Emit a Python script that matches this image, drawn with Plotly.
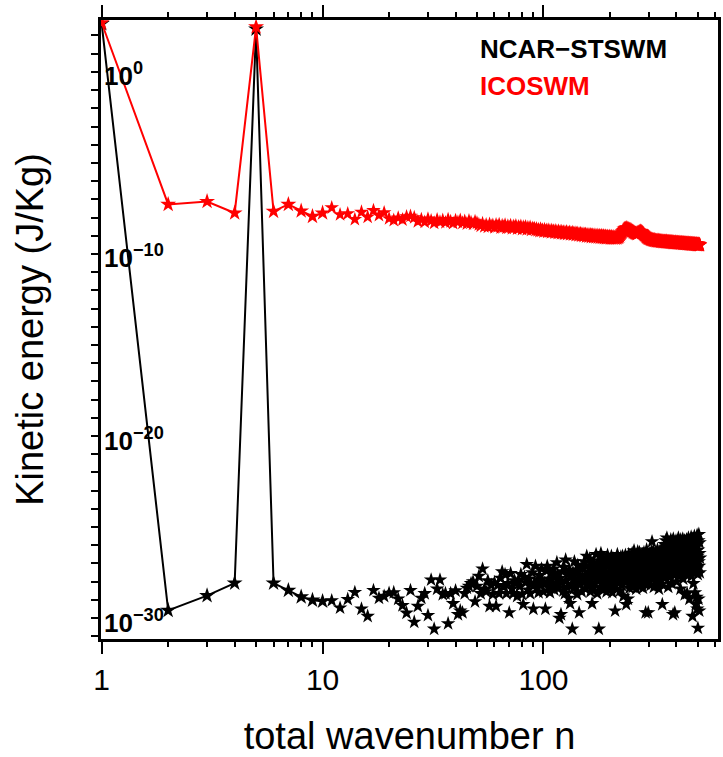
import plotly.graph_objects as go

# ---------------- data (log10 of kinetic energy, J/Kg) ----------------
wavenumber = list(range(1, 512))

ncar_log10 = [
    2.65, -29.58, -28.77, -28.08, 2.35, -28.08, -28.48, -28.84, -29.02, -29.08,
    -29.04, -29.44, -28.97, -28.59, -29.50, -29.90, -28.48, -28.90, -28.80, -28.63,
    -28.60, -28.95, -29.31, -29.72, -28.48, -30.22, -29.35, -28.90, -28.65, -29.85,
    -27.90, -30.60, -28.40, -27.90, -28.70, -28.65, -30.30, -28.65, -29.20, -28.50,
    -29.80, -29.60, -29.70, -28.65, -28.35, -28.25, -28.10, -28.00, -29.10, -28.25,
    -27.70, -28.65, -27.30, -28.40, -28.55, -27.95, -29.35, -28.20, -28.70, -28.05,
    -29.35, -28.20, -28.65, -27.80, -27.45, -28.30, -27.60, -28.65, -28.10, -29.70,
    -27.55, -28.40, -28.65, -27.95, -28.10, -28.80, -27.90, -28.25, -27.60, -28.70,
    -29.25, -27.75, -28.05, -27.05, -28.45, -27.85, -28.65, -28.15, -27.50, -29.50,
    -28.10, -27.15, -28.35, -27.90, -28.60, -27.65, -28.20, -27.30, -28.00, -28.55,
    -28.10, -29.50, -27.40, -27.15, -28.30, -27.85, -28.60, -27.55, -27.90, -28.20,
    -27.30, -28.45, -27.70, -28.10, -26.95, -27.60, -28.35, -30.00, -27.80, -29.80,
    -28.05, -27.45, -28.50, -27.20, -28.65, -26.80, -27.95, -28.30, -27.60, -28.90,
    -27.35, -29.20, -27.75, -28.15, -30.60, -27.50, -28.40, -26.90, -27.85, -28.25,
    -27.40, -28.70, -27.10, -27.95, -29.70, -27.65, -28.10, -27.25, -28.55, -27.80,
    -27.30, -28.05, -26.90, -27.70, -28.40, -27.15, -26.60, -27.85, -28.20, -27.45,
    -27.95, -26.75, -28.55, -27.25, -27.60, -29.20, -27.05, -28.30, -26.95, -27.75,
    -28.10, -27.35, -26.50, -27.90, -28.65, -27.20, -27.55, -30.60, -26.85, -27.65,
    -28.35, -26.45, -27.40, -28.00, -27.10, -26.70, -28.45, -27.80, -27.30, -28.20,
    -26.95, -27.60, -28.55, -27.00, -26.55, -27.85, -28.30, -27.45, -26.80, -27.70,
    -28.15, -27.25, -26.60, -27.95, -28.60, -27.05, -27.50, -26.75, -28.25, -27.35,
    -29.60, -26.90, -27.80, -28.40, -27.15, -26.50, -27.65, -28.05, -27.40, -26.85,
    -27.95, -28.50, -27.20, -26.65, -27.70, -28.20, -27.00, -26.60, -27.55, -28.80,
    -27.30, -26.70, -28.00, -27.45, -26.55, -27.85, -29.25, -27.10, -26.80, -27.60,
    -28.95, -27.25, -26.50, -27.90, -28.35, -27.05, -26.75, -27.50, -28.10, -26.95,
    -27.20, -26.45, -27.75, -28.30, -26.85, -27.40, -26.30, -27.95, -28.15, -26.70,
    -27.55, -26.95, -28.40, -27.10, -26.55, -27.80, -26.35, -27.35, -28.05, -26.80,
    -27.60, -26.40, -27.15, -28.25, -26.90, -27.50, -26.60, -27.90, -27.05, -26.50,
    -27.70, -28.35, -26.75, -27.25, -26.40, -27.85, -26.95, -27.45, -28.10, -29.70,
    -26.65, -27.30, -26.25, -27.75, -28.00, -26.85, -27.15, -29.70, -26.55, -27.60,
    -26.90, -27.95, -26.45, -27.35, -28.20, -26.70, -27.05, -26.35, -27.65, -25.80,
    -27.20, -26.60, -27.85, -26.30, -27.45, -28.30, -26.80, -27.10, -26.50, -27.70,
    -26.95, -27.55, -26.40, -28.05, -27.00, -26.65, -27.40, -26.25, -27.80, -26.85,
    -27.25, -26.55, -28.40, -26.90, -27.60, -26.35, -27.15, -26.75, -27.95, -26.45,
    -27.50, -26.20, -27.05, -28.15, -29.25, -26.60, -27.35, -26.85, -27.70, -26.40,
    -26.70, -27.45, -25.95, -26.40, -27.80, -26.15, -27.10, -25.75, -26.90, -27.35,
    -26.25, -25.60, -27.60, -26.55, -26.05, -27.20, -28.30, -26.45, -25.85, -27.00,
    -26.60, -27.55, -25.90, -26.35, -27.75, -26.80, -25.70, -27.15, -26.50, -28.10,
    -26.10, -26.95, -25.80, -27.40, -26.30, -29.80, -25.65, -26.75, -27.25, -26.00,
    -27.65, -26.45, -29.70, -25.95, -26.85, -27.30, -26.20, -25.75, -27.05, -26.55,
    -28.00, -26.15, -25.85, -27.50, -26.65, -26.05, -27.20, -25.60, -26.90, -26.35,
    -27.70, -26.00, -25.80, -26.95, -27.35, -26.25, -28.40, -25.70, -26.60, -27.10,
    -26.40, -25.90, -27.55, -26.70, -26.10, -27.00, -25.65, -26.50, -27.85, -26.20,
    -25.95, -26.80, -27.30, -26.30, -25.75, -28.70, -26.55, -27.15, -26.05, -25.85,
    -26.95, -27.60, -26.15, -25.70, -26.65, -27.25, -28.65, -26.35, -25.80, -26.85,
    -27.40, -26.00, -25.60, -26.75, -27.05, -26.25, -25.90, -28.95, -26.45, -27.50,
    -26.10, -25.75, -26.90, -27.20, -26.30, -25.55, -26.60, -27.70, -26.05, -25.85,
    -26.80, -27.35, -29.90, -26.40, -25.65, -26.95, -28.10, -26.20, -25.80, -27.00,
    -26.55, -25.50, -27.45, -26.15, -28.60, -26.70, -25.70, -27.10, -29.25, -26.35,
    -25.90, -26.85, -28.85, -27.30, -26.00, -25.45, -29.50, -26.60, -27.60, -30.55,
    -26.25, -25.75, -28.95, -26.90, -25.40, -27.15, -29.60, -26.45, -25.85, -27.50,
    -26.70,
]

ico_log10 = [
    2.70, -7.28, -7.12, -7.75, 2.47, -7.66, -7.28, -7.64, -7.94, -7.75,
    -7.46, -7.84, -7.79, -8.10, -7.70, -7.97, -7.61, -7.88, -7.73, -8.06,
    -8.15, -8.02, -8.12, -7.95, -7.92, -8.00, -8.22, -8.10, -8.25, -8.08,
    -8.18, -8.30, -8.12, -8.24, -8.15, -8.28, -8.10, -8.22, -8.32, -8.16,
    -8.25, -8.14, -8.30, -8.20, -8.34, -8.18, -8.27, -8.36, -8.22, -8.30,
    -8.38, -8.46, -8.33, -8.50, -8.40, -8.52, -8.36, -8.47, -8.42, -8.55,
    -8.40, -8.50, -8.38, -8.56, -8.44, -8.52, -8.41, -8.58, -8.46, -8.54,
    -8.43, -8.60, -8.48, -8.55, -8.45, -8.62, -8.50, -8.57, -8.47, -8.64,
    -8.52, -8.60, -8.50, -8.66, -8.55, -8.62, -8.53, -8.68, -8.58, -8.64,
    -8.60, -8.70, -8.62, -8.72, -8.65, -8.75, -8.63, -8.74, -8.68, -8.78,
    -8.66, -8.76, -8.70, -8.80, -8.68, -8.78, -8.72, -8.82, -8.70, -8.80,
    -8.74, -8.84, -8.72, -8.82, -8.76, -8.86, -8.74, -8.84, -8.78, -8.88,
    -8.76, -8.86, -8.79, -8.90, -8.81, -8.88, -8.78, -8.92, -8.83, -8.87,
    -8.80, -8.93, -8.84, -8.89, -8.82, -8.95, -8.86, -8.91, -8.84, -8.97,
    -8.88, -8.94, -8.86, -8.99, -8.90, -8.96, -8.88, -9.01, -8.92, -8.97,
    -8.90, -9.03, -8.93, -8.98, -8.91, -9.05, -8.95, -9.00, -8.93, -9.06,
    -8.96, -9.02, -8.94, -9.08, -8.97, -9.03, -8.95, -9.09, -8.99, -9.04,
    -8.96, -9.10, -9.00, -9.05, -8.97, -9.11, -9.01, -9.06, -8.98, -9.12,
    -9.02, -9.07, -8.99, -9.13, -9.03, -9.08, -9.00, -9.14, -9.04, -9.09,
    -9.01, -9.15, -9.05, -9.10, -9.02, -9.14, -9.06, -9.11, -9.03, -9.16,
    -9.07, -9.12, -9.04, -9.17, -9.08, -9.13, -9.05, -9.16, -9.09, -9.13,
    -9.06, -9.17, -9.10, -9.14, -9.05, -9.15, -9.08, -9.12, -9.02, -9.10,
    -8.98, -9.06, -8.92, -8.98, -8.85, -8.90, -8.78, -8.84, -8.70, -8.76,
    -8.64, -8.72, -8.60, -8.68, -8.58, -8.66, -8.56, -8.64, -8.58, -8.66,
    -8.60, -8.68, -8.62, -8.70, -8.64, -8.72, -8.66, -8.74, -8.68, -8.76,
    -8.70, -8.78, -8.74, -8.82, -8.76, -8.84, -8.80, -8.86, -8.82, -8.88,
    -8.84, -8.90, -8.86, -8.92, -8.84, -8.90, -8.82, -8.88, -8.80, -8.86,
    -8.78, -8.84, -8.76, -8.82, -8.74, -8.80, -8.76, -8.84, -8.78, -8.86,
    -8.82, -8.90, -8.86, -8.94, -8.90, -8.98, -8.95, -9.02, -8.98, -9.06,
    -9.02, -9.10, -9.05, -9.12, -9.08, -9.15, -9.10, -9.17, -9.12, -9.18,
    -9.14, -9.20, -9.15, -9.22, -9.17, -9.23, -9.18, -9.24, -9.19, -9.25,
    -9.20, -9.26, -9.21, -9.27, -9.22, -9.28, -9.23, -9.29, -9.22, -9.28,
    -9.24, -9.30, -9.25, -9.31, -9.26, -9.30, -9.24, -9.32, -9.27, -9.31,
    -9.25, -9.32, -9.27, -9.33, -9.26, -9.31, -9.28, -9.34, -9.27, -9.32,
    -9.29, -9.35, -9.28, -9.33, -9.30, -9.36, -9.29, -9.34, -9.31, -9.35,
    -9.28, -9.36, -9.30, -9.34, -9.31, -9.37, -9.30, -9.35, -9.32, -9.36,
    -9.29, -9.37, -9.31, -9.36, -9.33, -9.38, -9.31, -9.36, -9.33, -9.39,
    -9.32, -9.37, -9.34, -9.38, -9.31, -9.39, -9.35, -9.37, -9.33, -9.40,
    -9.34, -9.38, -9.35, -9.41, -9.33, -9.39, -9.36, -9.40, -9.34, -9.41,
    -9.35, -9.39, -9.37, -9.42, -9.34, -9.40, -9.36, -9.41, -9.38, -9.42,
    -9.35, -9.41, -9.37, -9.43, -9.36, -9.40, -9.38, -9.43, -9.37, -9.42,
    -9.36, -9.41, -9.39, -9.44, -9.37, -9.42, -9.38, -9.44, -9.39, -9.43,
    -9.37, -9.42, -9.40, -9.45, -9.38, -9.43, -9.39, -9.45, -9.40, -9.44,
    -9.38, -9.43, -9.41, -9.46, -9.39, -9.44, -9.40, -9.46, -9.41, -9.45,
    -9.39, -9.44, -9.42, -9.47, -9.40, -9.45, -9.41, -9.47, -9.42, -9.46,
    -9.40, -9.45, -9.43, -9.48, -9.41, -9.46, -9.42, -9.48, -9.43, -9.47,
    -9.41, -9.46, -9.44, -9.49, -9.42, -9.47, -9.43, -9.49, -9.44, -9.48,
    -9.42, -9.47, -9.45, -9.50, -9.43, -9.48, -9.44, -9.50, -9.45, -9.49,
    -9.43, -9.48, -9.46, -9.51, -9.44, -9.49, -9.45, -9.51, -9.46, -9.50,
    -9.44, -9.49, -9.47, -9.52, -9.45, -9.50, -9.46, -9.52, -9.47, -9.51,
    -9.45, -9.50, -9.48, -9.53, -9.46, -9.51, -9.47, -9.53, -9.48, -9.52,
    -9.50,
]

series_names = ["NCAR\u2212STSWM", "ICOSWM"]
series_colors = ["black", "red"]

x_tick_vals = [1, 10, 100]
x_tick_text = ["1", "10", "100"]
x_minor_vals = [2, 3, 4, 5, 6, 7, 8, 9, 20, 30, 40, 50, 60, 70, 80, 90, 200, 300, 400, 500, 600]
y_tick_exps = [0, -10, -20, -30]
y_tick_text = ["<b>10<sup>0</sup></b>", "<b>10<sup>\u221210</sup></b>",
               "<b>10<sup>\u221220</sup></b>", "<b>10<sup>\u221230</sup></b>"]
y_minor_exps = list(range(-31, 3))

FONT = "Liberation Sans, Arial, Helvetica, sans-serif"
N_LINE = 10  # points joined by a line

fig = go.Figure()
for logs, name, col in [(ncar_log10, series_names[0], series_colors[0]),
                        (ico_log10, series_names[1], series_colors[1])]:
    ke = [10 ** v for v in logs]
    fig.add_trace(go.Scatter(
        x=wavenumber[:N_LINE], y=ke[:N_LINE], mode="lines+markers", name=name,
        line=dict(color=col, width=2),
        marker=dict(symbol="star", size=12, color=col, line=dict(width=0)),
        showlegend=False))
    fig.add_trace(go.Scatter(
        x=wavenumber[N_LINE:], y=ke[N_LINE:], mode="markers", name=name,
        marker=dict(symbol="star", size=11, color=col, line=dict(width=0)),
        showlegend=False))

# y-axis decade labels drawn just inside the left axis
for e, txt in zip(y_tick_exps, y_tick_text):
    fig.add_annotation(text=txt, xref="paper", yref="y", x=0, y=e, xshift=1, yshift=-3,
                       xanchor="left", yanchor="middle", showarrow=False,
                       font=dict(family=FONT, size=26, color="black"))

fig.add_annotation(text="<b>NCAR\u2212STSWM</b>", xref="paper", yref="paper",
                   x=0.611, y=0.953, xanchor="left", yanchor="middle", showarrow=False,
                   font=dict(family=FONT, size=26, color="black"))
fig.add_annotation(text="<b>ICOSWM</b>", xref="paper", yref="paper",
                   x=0.611, y=0.894, xanchor="left", yanchor="middle", showarrow=False,
                   font=dict(family=FONT, size=26, color="red"))

fig.update_layout(
    width=723, height=757,
    margin=dict(l=101, r=2, t=20, b=114),
    paper_bgcolor="white", plot_bgcolor="white",
    font=dict(family=FONT, color="black"),
)
fig.update_xaxes(
    type="log", range=[-0.003, 2.79],
    tickmode="array", tickvals=x_tick_vals, ticktext=x_tick_text,
    ticks="outside", ticklen=12, tickwidth=2, tickcolor="black",
    tickfont=dict(family=FONT, size=30, color="black"),
    minor=dict(tickmode="array", tickvals=x_minor_vals, ticks="outside",
               ticklen=5, tickwidth=2, tickcolor="black"),
    showline=True, linewidth=3, linecolor="black", mirror="ticks",
    showgrid=False, zeroline=False,
    title=dict(text="total wavenumber n", font=dict(family=FONT, size=38, color="black"),
               standoff=32),
)
fig.update_yaxes(
    type="log", range=[-31.15, 2.85],
    tickmode="array", tickvals=[10 ** e for e in y_tick_exps],
    showticklabels=False,
    ticks="outside", ticklen=7, tickwidth=2, tickcolor="black",
    minor=dict(tickmode="array", tickvals=[10 ** e for e in y_minor_exps], ticks="outside",
               ticklen=7, tickwidth=2, tickcolor="black"),
    showline=True, linewidth=3, linecolor="black", mirror=True,
    showgrid=False, zeroline=False,
    title=dict(text="Kinetic energy (J/Kg)", font=dict(family=FONT, size=38, color="black"),
               standoff=36),
)

fig.write_html("out.html")
